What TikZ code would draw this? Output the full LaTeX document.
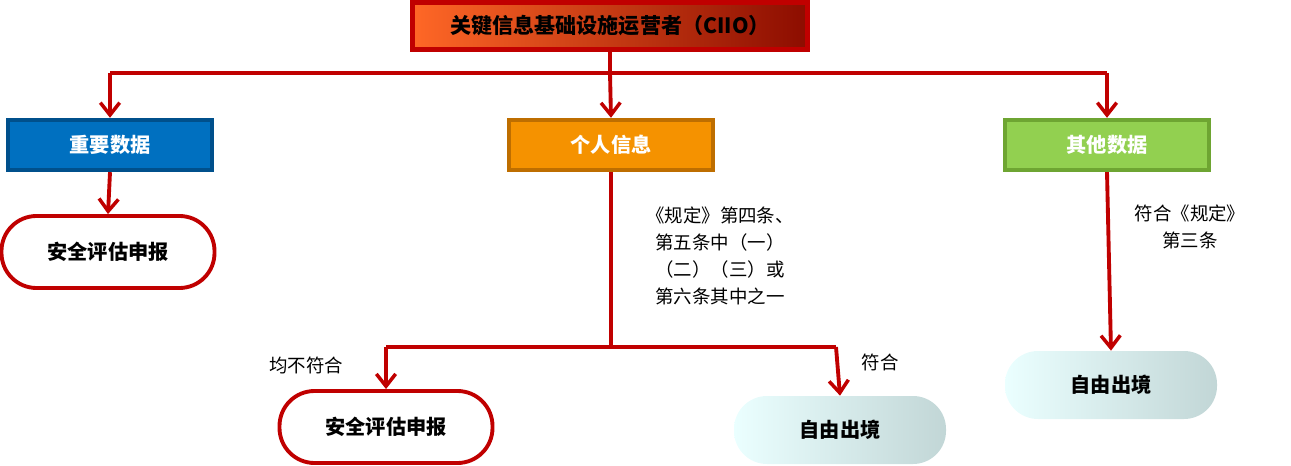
\documentclass[tikz,border=0pt]{standalone}
\usepackage{fontspec}
\setmainfont{Liberation Serif}
\newfontfamily\cjk{Noto Sans CJK SC}
\usetikzlibrary{arrows.meta,shadings}
\definecolor{lred}{HTML}{C00000}
\tikzset{
 conn/.style={draw=lred,line width=2.2pt,-{Straight Barb[length=7pt,width=11pt,line width=2pt]}},
 seg/.style={draw=lred,line width=2.2pt},
 cat/.style={minimum width=204*0.02cm,minimum height=50*0.02cm,line width=2.5pt,text=white,font=\cjk\bfseries\fontsize{11.5}{13}\selectfont},
 redpill/.style={draw=lred,line width=2.2pt,fill=white,rounded corners=35*0.02cm,minimum width=213*0.02cm,minimum height=72*0.02cm,font=\cjk\bfseries\fontsize{11.5}{13}\selectfont},
 tealpill/.style={left color=cyan!8!white,right color=cyan!20!gray!40!white,rounded corners=33*0.02cm,minimum width=212*0.02cm,minimum height=68*0.02cm,font=\cjk\bfseries\fontsize{11.5}{13}\selectfont},
 note/.style={font=\cjk\fontsize{10.5}{15.5}\selectfont,align=center}
}
\begin{document}
\begin{tikzpicture}[x=0.02cm,y=-0.02cm]
\useasboundingbox (0,0) rectangle (1291,466);
\node[draw=lred,line width=2.5pt,left color=orange!60!red!85!white,right color=red!50!black!90!orange,minimum width=395*0.02cm,minimum height=47*0.02cm,font=\cjk\bfseries\fontsize{12}{14}\selectfont] (top) at (610,26) {关键信息基础设施运营者（CIIO）};
\node[cat,fill={rgb,255:red,0;green,112;blue,192},draw={rgb,255:red,0;green,80;blue,140}] (imp) at (110,145) {重要数据};
\node[cat,fill={rgb,255:red,245;green,146;blue,0},draw={rgb,255:red,190;green,110;blue,0}] (per) at (611,145) {个人信息};
\node[cat,fill={rgb,255:red,146;green,208;blue,80},draw={rgb,255:red,110;green,165;blue,50}] (oth) at (1107,145) {其他数据};
\coordinate (j1) at (610,73);
\coordinate (jl) at (110,73);
\coordinate (jr) at (1107,73);
\draw[seg] (top.south) -- (j1);
\draw[seg] (jl) -- (jr);
\draw[conn] (jl) -- (imp.north);
\draw[conn] (j1) -- (per.north);
\draw[conn] (jr) -- (oth.north);
\node[redpill] (a1) at (108,252) {安全评估申报};
\draw[conn] (imp.south) -- (a1.north);
\coordinate (j2) at (611,347);
\coordinate (j2l) at (386,347);
\coordinate (j2r) at (836,347);
\draw[seg] (per.south) -- (j2);
\draw[seg] (j2l) -- (j2r);
\node[note] (n1) at (720,256) {《规定》第四条、\\第五条中（一）\\（二）（三）或\\第六条其中之一};
\node[redpill] (a2) at (386,427) {安全评估申报};
\node[tealpill] (f1) at (840,430) {自由出境};
\draw[conn] (j2l) -- (a2.north);
\draw[conn] (j2r) -- (f1.north);
\node[note] (n2) at (306,365) {均不符合};
\node[note] (n3) at (880,362) {符合};
\node[tealpill] (f2) at (1111,385) {自由出境};
\draw[conn] (oth.south) -- (f2.north);
\node[note] (n4) at (1190,227) {符合《规定》\\第三条};
\end{tikzpicture}
\end{document}
